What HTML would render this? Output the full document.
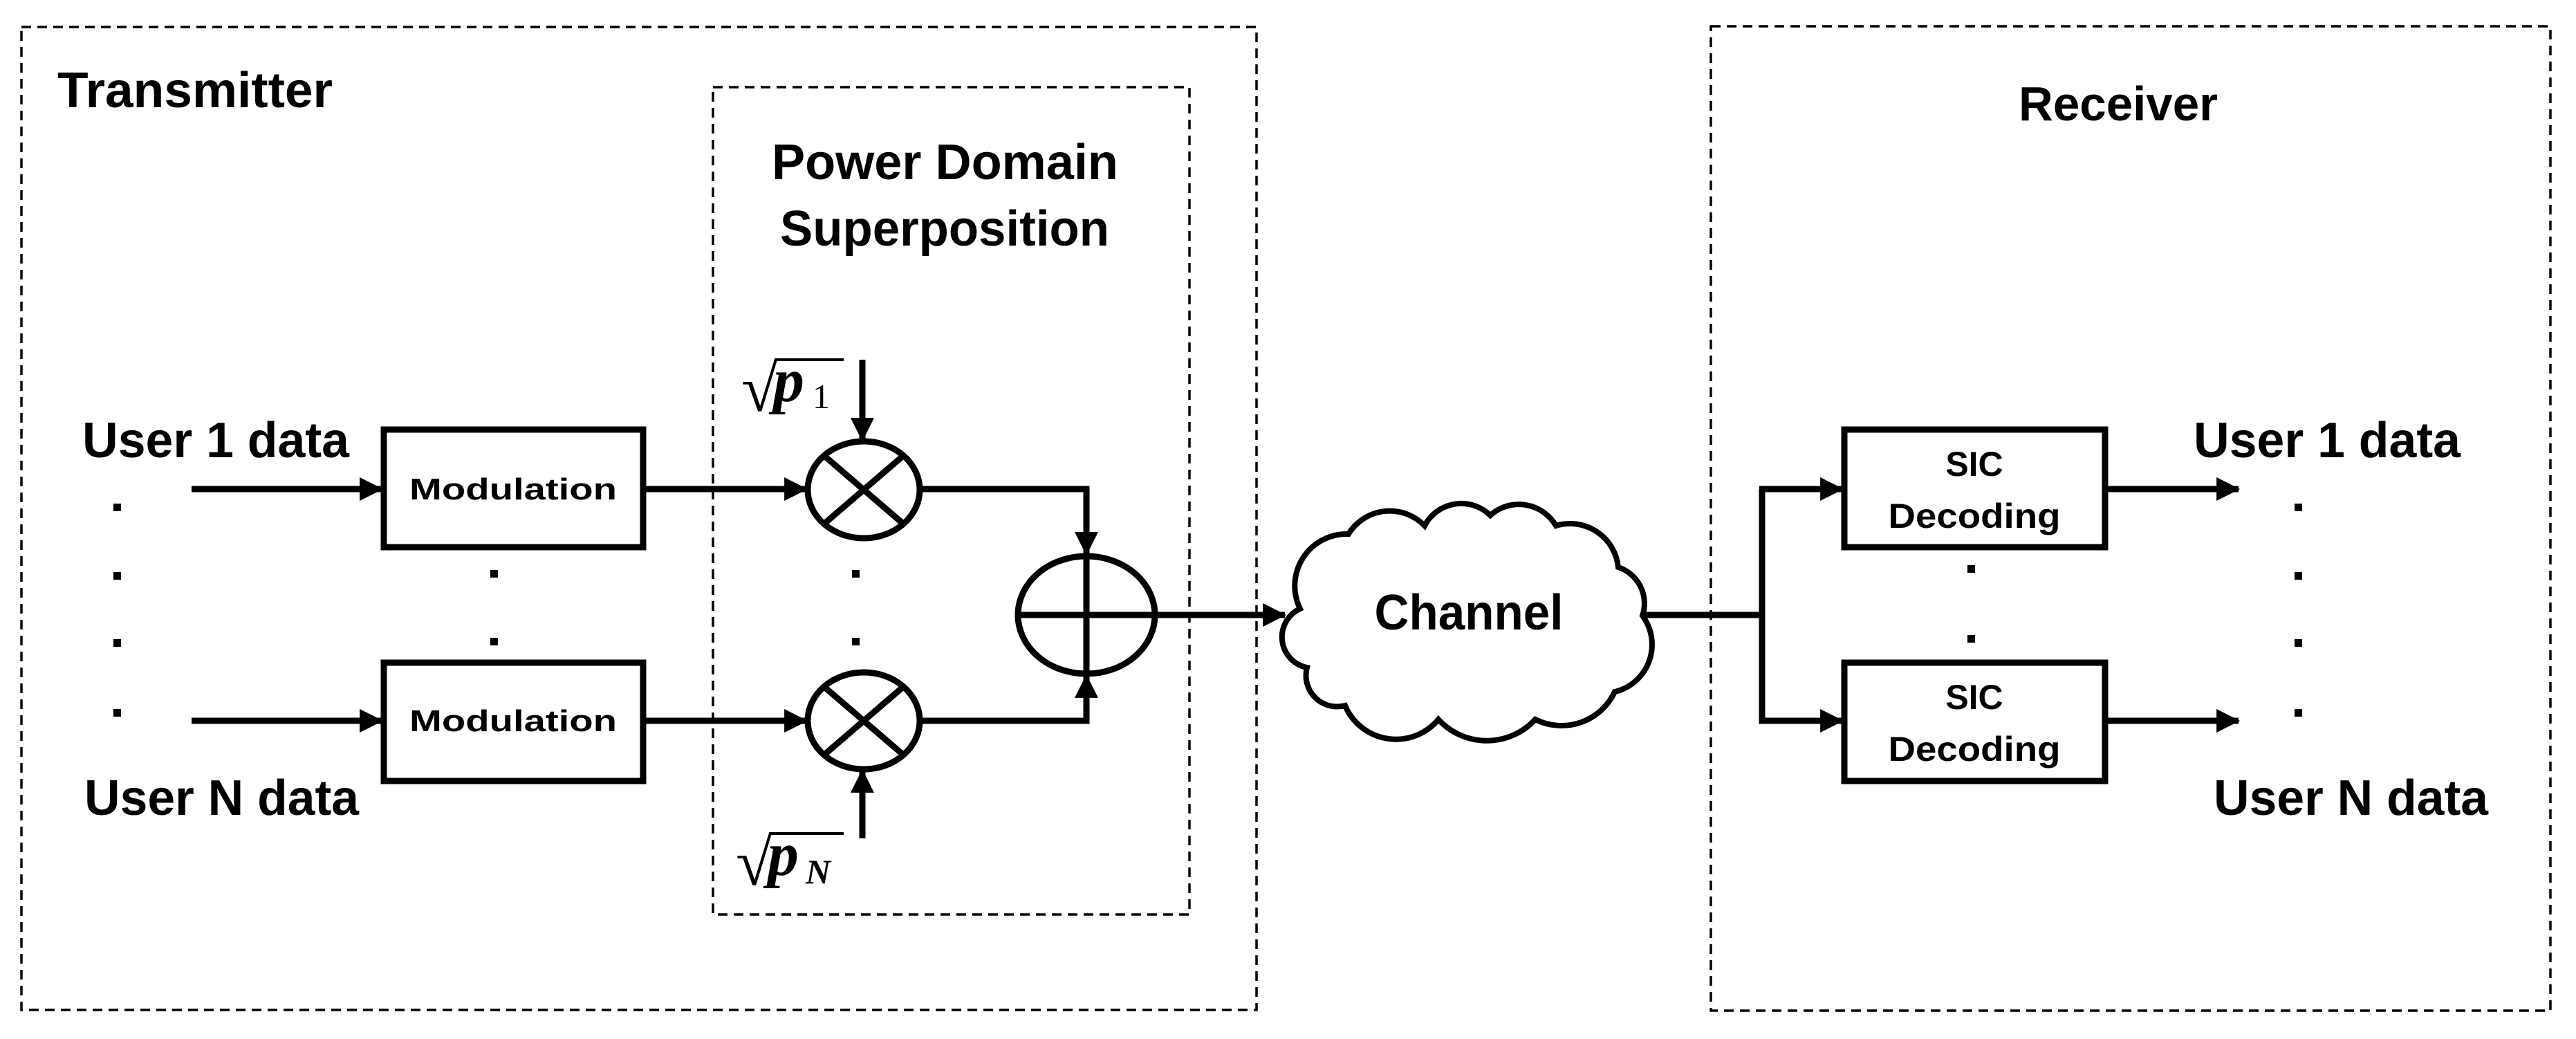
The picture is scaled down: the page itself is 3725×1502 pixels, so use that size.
<!DOCTYPE html>
<html><head><meta charset="utf-8"><style>
html,body{margin:0;padding:0;background:#fff;}
svg{display:block;}
text{font-family:"Liberation Sans",sans-serif;font-weight:bold;fill:#000;}
</style></head><body>
<svg width="3725" height="1502" viewBox="0 0 3725 1502" xmlns="http://www.w3.org/2000/svg">
<defs>
<marker id="ah" markerWidth="36" markerHeight="34" refX="7.5" refY="4" orient="auto" markerUnits="userSpaceOnUse" viewBox="0 0 8 8"><path d="M0,0 L8,4 L0,8 Z" fill="#000" stroke="none"/></marker>
</defs>
<g fill="none" stroke="#000" stroke-width="3.5" stroke-dasharray="14,9">
<rect x="31" y="39" width="1786" height="1421"/>
<rect x="1031" y="126" width="689" height="1196"/>
<rect x="2474" y="38" width="1214" height="1423"/>
</g>
<text x="83" y="155" font-size="72" textLength="398" lengthAdjust="spacingAndGlyphs">Transmitter</text>
<text x="1116" y="259" font-size="72" textLength="501" lengthAdjust="spacingAndGlyphs">Power Domain</text>
<text x="1128" y="355" font-size="72" textLength="476" lengthAdjust="spacingAndGlyphs">Superposition</text>
<text x="2919" y="174" font-size="70" textLength="288" lengthAdjust="spacingAndGlyphs">Receiver</text>
<text x="119" y="661" font-size="72" textLength="386" lengthAdjust="spacingAndGlyphs">User 1 data</text>
<text x="122" y="1178" font-size="72" textLength="397" lengthAdjust="spacingAndGlyphs">User N data</text>
<text x="3172" y="661" font-size="72" textLength="386" lengthAdjust="spacingAndGlyphs">User 1 data</text>
<text x="3201" y="1178" font-size="72" textLength="397" lengthAdjust="spacingAndGlyphs">User N data</text>
<g fill="#000">
<rect x="164" y="728" width="11" height="11"/><rect x="164" y="827" width="11" height="11"/><rect x="164" y="924" width="11" height="11"/><rect x="164" y="1025" width="11" height="11"/>
<rect x="709" y="824" width="11" height="11"/><rect x="709" y="922" width="11" height="11"/>
<rect x="1232" y="824" width="11" height="11"/><rect x="1232" y="922" width="11" height="11"/>
<rect x="2845" y="817" width="11" height="11"/><rect x="2845" y="918" width="11" height="11"/>
<rect x="3318" y="728" width="11" height="11"/><rect x="3318" y="827" width="11" height="11"/><rect x="3318" y="924" width="11" height="11"/><rect x="3318" y="1025" width="11" height="11"/>
</g>
<g fill="none" stroke="#000" stroke-width="9">
<line x1="277" y1="707" x2="552" y2="707" marker-end="url(#ah)"/>
<line x1="277" y1="1042" x2="552" y2="1042" marker-end="url(#ah)"/>
<rect x="555" y="621" width="375" height="170"/>
<rect x="555" y="958" width="375" height="171"/>
<line x1="930" y1="707" x2="1166" y2="707" marker-end="url(#ah)"/>
<line x1="930" y1="1042" x2="1166" y2="1042" marker-end="url(#ah)"/>
<ellipse cx="1249" cy="708" rx="81" ry="70"/>
<ellipse cx="1249" cy="1042" rx="81" ry="70"/>
<line x1="1192" y1="659" x2="1306" y2="757"/><line x1="1306" y1="659" x2="1192" y2="757"/>
<line x1="1192" y1="993" x2="1306" y2="1091"/><line x1="1306" y1="993" x2="1192" y2="1091"/>
<line x1="1247" y1="520" x2="1247" y2="636" marker-end="url(#ah)"/>
<line x1="1247" y1="1212" x2="1247" y2="1114" marker-end="url(#ah)"/>
<polyline points="1330,707 1571,707 1571,801" marker-end="url(#ah)"/>
<polyline points="1330,1042 1571,1042 1571,977" marker-end="url(#ah)"/>
<ellipse cx="1571" cy="889" rx="99" ry="85"/>
<line x1="1472" y1="889" x2="1670" y2="889"/><line x1="1571" y1="804" x2="1571" y2="974"/>
<line x1="1670" y1="889" x2="1858" y2="889" marker-end="url(#ah)"/>
<path d="M1890,965 A45,45 0 0 1 1880,880 A75,75 0 0 1 1950,772 A70,70 0 0 1 2060,760 A60,60 0 0 1 2155,745 A62,62 0 0 1 2250,760 A70,70 0 0 1 2340,820 A55,55 0 0 1 2375,890 A70,70 0 0 1 2335,1000 A85,85 0 0 1 2220,1040 A95,95 0 0 1 2080,1040 A80,80 0 0 1 1945,1020 A45,45 0 0 1 1890,965 Z" stroke-width="8"/>
<polyline points="2375,889 2548,889"/>
<polyline points="2548,707 2548,1042 2664,1042" marker-end="url(#ah)"/>
<line x1="2544" y1="707" x2="2664" y2="707" marker-end="url(#ah)"/>
<rect x="2667" y="621" width="377" height="170"/>
<rect x="2667" y="958" width="377" height="171"/>
<line x1="3044" y1="707" x2="3237" y2="707" marker-end="url(#ah)"/>
<line x1="3044" y1="1042" x2="3237" y2="1042" marker-end="url(#ah)"/>
</g>
<text x="2124" y="910" font-size="72" text-anchor="middle" textLength="273" lengthAdjust="spacingAndGlyphs">Channel</text>
<text x="742" y="722" font-size="44" text-anchor="middle" textLength="300" lengthAdjust="spacingAndGlyphs">Modulation</text>
<text x="742" y="1057" font-size="44" text-anchor="middle" textLength="300" lengthAdjust="spacingAndGlyphs">Modulation</text>
<text x="2855" y="688" font-size="50" text-anchor="middle">SIC</text>
<text x="2855" y="763" font-size="50" text-anchor="middle" textLength="249" lengthAdjust="spacingAndGlyphs">Decoding</text>
<text x="2855" y="1025" font-size="50" text-anchor="middle">SIC</text>
<text x="2855" y="1100" font-size="50" text-anchor="middle" textLength="249" lengthAdjust="spacingAndGlyphs">Decoding</text>
<text x="1072" y="594" font-size="96" style="font-family:'Liberation Serif',serif;font-weight:normal">√</text>
<line x1="1120" y1="520" x2="1220" y2="520" stroke="#000" stroke-width="4"/>
<text x="1118" y="580" font-size="90" style="font-family:'Liberation Serif',serif;font-style:italic;font-weight:bold">p</text>
<text x="1175" y="590" font-size="50" style="font-family:'Liberation Serif',serif;font-weight:normal">1</text>
<text x="1064" y="1279" font-size="96" style="font-family:'Liberation Serif',serif;font-weight:normal">√</text>
<line x1="1112" y1="1205" x2="1220" y2="1205" stroke="#000" stroke-width="4"/>
<text x="1110" y="1265" font-size="90" style="font-family:'Liberation Serif',serif;font-style:italic;font-weight:bold">p</text>
<text x="1165" y="1277" font-size="50" style="font-family:'Liberation Serif',serif;font-style:italic;font-weight:bold">N</text>
</svg>
</body></html>
